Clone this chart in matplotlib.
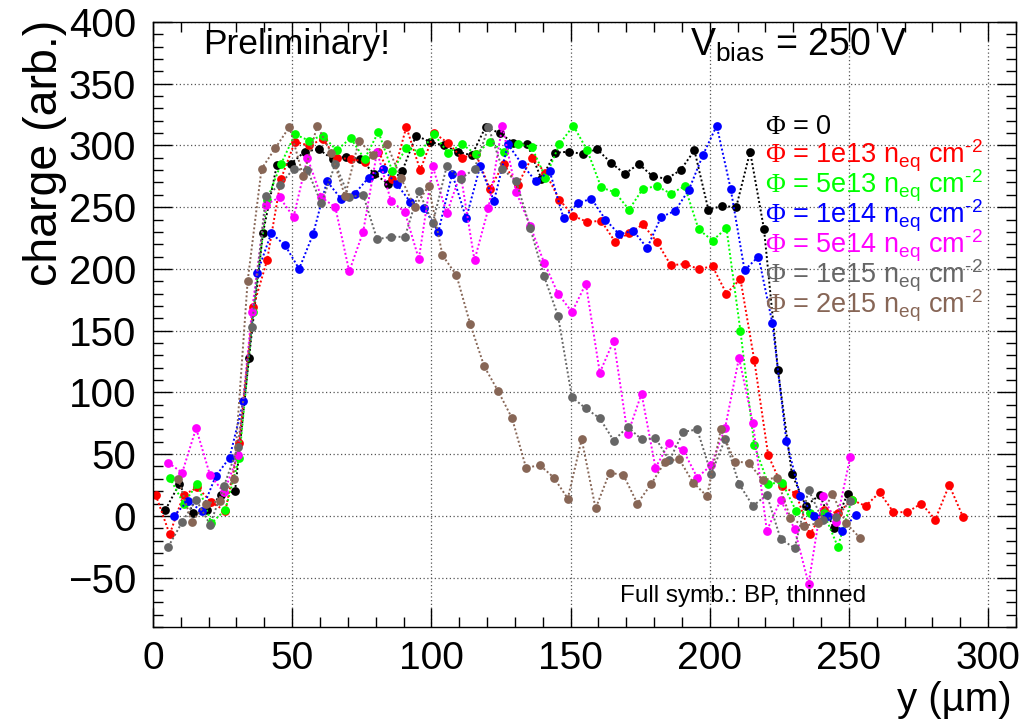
import matplotlib
matplotlib.use("Agg")
import matplotlib.pyplot as plt
from matplotlib.ticker import MultipleLocator
import numpy as np

plt.rcParams['font.family'] = ['Liberation Sans', 'DejaVu Sans']
plt.rcParams['mathtext.fontset'] = 'custom'
plt.rcParams['mathtext.rm'] = 'Liberation Sans'
plt.rcParams['mathtext.it'] = 'Liberation Sans:italic'
plt.rcParams['mathtext.sf'] = 'Liberation Serif'

# scan step along y (um) and first position of each scan
step = 5.0
start = {"0": 4.5, "1e13": 1.0, "5e13": 6.0, "1e14": 7.5,
         "5e14": 5.5, "1e15": 5.5, "2e15": 9.0}

q_0 = [5, 26, 2, 5, 17, 20, 128, 229, 284, 285, 295, 297, 289, 291, 289, 277,
       269, 279, 308, 303, 300, 295, 292, 315, 310, 302, 301, 273, 294, 295,
       293, 297, 286, 277, 285, 275, 273, 280, 296, 248, 251, 250, 295, 232,
       118, 34, 8, 17, -10, 18]
q_1e13 = [17, -15, 17, 23, 11, 4, 59, 169, 207, 273, 303, 300, 305, 290, 289,
          287, 295, 273, 315, 280, 310, 302, 290, 293, 265, 285, 268, 290, 278,
          256, 243, 238, 239, 222, 229, 236, 222, 203, 204, 200, 202, 180, 192,
          126, 49, 24, 18, -15, 5, 2, 13, 8, 19, 3, 3, 10, -3, 25, -1]
q_5e13 = [31, 10, 26, -6, 5, 47, 165, 256, 285, 309, 304, 308, 296, 306, 289,
          311, 279, 298, 295, 309, 294, 301, 293, 303, 295, 301, 299, 274, 301,
          316, 296, 266, 262, 248, 265, 267, 261, 267, 232, 223, 233, 150, 57,
          26, 27, 4, 2, 2, -25, 13]
q_1e14 = [0, 12, 4, 32, 47, 93, 197, 229, 219, 200, 228, 271, 257, 261, 274,
          281, 269, 254, 249, 230, 277, 241, 283, 255, 301, 285, 271, 279, 241,
          253, 257, 240, 228, 231, 217, 242, 247, 264, 292, 316, 265, 199, 210,
          156, 61, 16, 0, 0, -12, 1]
q_5e14 = [43, 35, 71, 33, 19, 49, 165, 252, 258, 242, 290, 258, 250, 198, 230,
          295, 255, 246, 208, 283, 245, 277, 207, 249, 316, 262, 235, 205, 180,
          165, 188, 116, 142, 66, 99, 39, 59, 53, 31, 41, 71, 128, 75, -12, 13,
          -11, -55, 16, -5, 48]
q_1e15 = [-25, -5, 13, -7, 24, 56, 153, 259, 268, 281, 280, 253, 285, 258, 260,
          224, 226, 226, 263, 237, 283, 273, 281, 315, 281, 271, 233, 194, 162,
          96, 87, 79, 61, 72, 62, 63, 45, 68, 70, 34, 62, 26, 8, 17, -19, -26,
          21, -3, -1, 12]
q_2e15 = [30, -5, 10, 12, 30, 190, 281, 298, 315, 275, 316, 294, 259, 304, 292,
          301, 274, 250, 267, 211, 195, 155, 121, 101, 79, 39, 41, 31, 14, 62, 6,
          35, 33, 10, 26, 44, 46, 27, 16, 70, 44, 43, 29, 31, -2, -8, -6, 18, -6,
          -18]

phi = r"$\mathsf{\Phi}$"
labels = [phi + " = 0",
          phi + r" = 1e13 n$_{\rm eq}$ cm$^{\text{-2}}$",
          phi + r" = 5e13 n$_{\rm eq}$ cm$^{\text{-2}}$",
          phi + r" = 1e14 n$_{\rm eq}$ cm$^{\text{-2}}$",
          phi + r" = 5e14 n$_{\rm eq}$ cm$^{\text{-2}}$",
          phi + r" = 1e15 n$_{\rm eq}$ cm$^{\text{-2}}$",
          phi + r" = 2e15 n$_{\rm eq}$ cm$^{\text{-2}}$"]
keys = ["0", "1e13", "5e13", "1e14", "5e14", "1e15", "2e15"]
series = [q_0, q_1e13, q_5e13, q_1e14, q_5e14, q_1e15, q_2e15]
colors = ["#000000", "#ff0000", "#00ff00", "#0000ff", "#ff00ff", "#666666", "#876656"]

fig = plt.figure(figsize=(10.30, 7.23), dpi=100)
ax = fig.add_axes([0.1485, 0.1328, 0.8379, 0.8368])

for k, q, c in zip(keys, series, colors):
    y = np.arange(len(q)) * step + start[k]
    ax.plot(y, q, linestyle=(0, (1, 1.2)), linewidth=1.4, color=c,
            marker='o', markersize=6.3, markeredgewidth=0)

ax.set_xlim(0, 310)
ax.set_ylim(-90, 400)
ax.xaxis.set_major_locator(MultipleLocator(50))
ax.xaxis.set_minor_locator(MultipleLocator(10))
ax.yaxis.set_major_locator(MultipleLocator(50))
ax.yaxis.set_minor_locator(MultipleLocator(10))
ax.tick_params(which='both', direction='in', top=True, right=True, width=1)
ax.tick_params(which='major', length=14)
ax.tick_params(which='minor', length=7)
ax.tick_params(axis='y', labelsize=29, pad=12)
ax.tick_params(axis='x', labelsize=28, pad=10)
ax.yaxis.set_major_formatter(matplotlib.ticker.FuncFormatter(
    lambda v, p: ("\u2212%d" % -v) if v < 0 else "%d" % v))
ax.grid(True, which='major', linestyle=(0, (1, 2)), linewidth=0.9, color='#555555')
for s in ax.spines.values():
    s.set_linewidth(1)

fig.text(0.044, 0.972, "charge (arb.)", rotation=90, ha='center', va='top', fontsize=33.5)
fig.text(0.9825, 0.032, "y (\u00b5m)", ha='right', va='center', fontsize=29)

ax.text(0.058, 0.962, "Preliminary!", transform=ax.transAxes, ha='left', va='center', fontsize=25.5)
ax.text(0.622, 0.962, r"V$_{\rm bias}$ = 250 V", transform=ax.transAxes,
        ha='left', va='center', fontsize=27)
ax.text(0.684, 0.041, "Full symb.: BP, thinned", transform=ax.transAxes,
        ha='center', va='baseline', fontsize=17.5)

for i, (lab, c) in enumerate(zip(labels, colors)):
    ax.text(0.709, (627 - 134 - 30 * i) / 605, lab, color=c, transform=ax.transAxes,
            ha='left', va='baseline', fontsize=19.5)

fig.savefig("out.png", dpi=100)
